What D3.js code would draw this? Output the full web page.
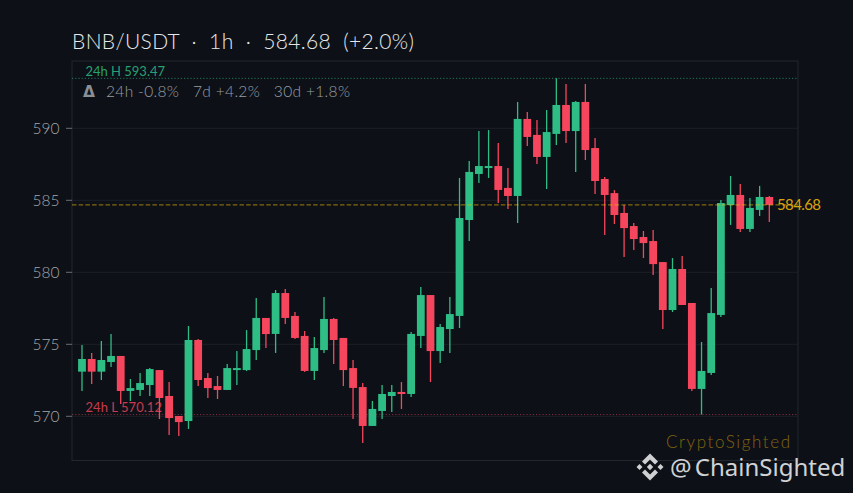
<!DOCTYPE html>
<html>
<head>
<meta charset="utf-8">
<script src="https://cdn.jsdelivr.net/npm/d3@7"></script>
<style>
  html, body { margin: 0; padding: 0; background: #0d1117; }
  svg { display: block; }
  text { font-family: Lato, "Noto Sans", sans-serif; font-weight: 300; white-space: pre; }
</style>
</head>
<body>
<svg id="chart" width="853" height="493"></svg>
<script>
// candles, one array per field
var opens = [573.10,573.98,573.10,573.77,574.19,571.76,571.83,572.17,573.21,571.41,570.02,569.67,575.30,572.66,572.10,571.83,573.21,573.21,574.60,576.83,
  575.72,578.56,576.97,575.58,573.15,574.60,576.76,575.44,573.35,572.03,569.33,570.37,571.41,571.69,571.55,575.58,578.42,574.53,576.06,576.97,
  583.63,586.83,587.24,587.38,585.86,585.30,590.65,589.54,588.01,589.61,591.62,589.81,591.83,588.63,586.48,585.50,584.12,583.21,582.45,582.17,
  580.71,577.38,580.23,577.87,571.90,573.01,577.04,584.67,585.37,583.01,584.33,585.23];
var highs = [574.95,574.40,575.23,575.71,574.19,572.59,573.00,573.35,573.21,572.38,570.02,576.27,575.37,573.00,572.80,573.63,574.53,575.99,578.21,576.83,
  578.77,578.84,577.24,575.92,575.51,578.28,576.83,575.44,573.91,572.31,571.07,572.17,572.17,572.38,575.85,578.98,578.42,576.41,578.28,586.55,
  587.73,589.81,589.88,588.98,587.24,591.83,591.13,590.58,591.27,593.47,593.08,591.90,593.08,589.33,586.62,585.71,584.67,583.42,582.87,582.94,
  580.71,580.99,581.13,577.87,575.16,578.91,585.02,586.69,586.13,585.16,586.00,585.30];
var lows = [571.76,572.24,572.52,573.42,570.85,571.06,571.41,571.41,569.81,568.70,568.63,569.12,572.10,571.27,571.20,571.83,572.17,573.14,573.91,574.74,
  574.40,576.41,575.37,573.08,572.52,574.40,573.63,572.10,569.81,568.15,569.33,569.81,570.30,570.51,571.34,574.74,572.38,573.70,574.40,576.13,
  582.17,586.20,586.55,584.81,584.40,583.42,588.77,587.52,585.79,588.84,588.98,586.97,587.80,585.44,582.59,583.35,581.06,581.55,580.99,579.81,
  576.06,577.24,577.73,571.76,570.12,572.87,576.90,583.29,582.80,582.80,583.91,583.49];
var closes = [573.98,573.10,573.91,574.19,571.76,571.96,572.31,573.28,571.27,569.88,569.60,575.30,572.52,571.96,571.83,573.35,573.35,574.67,576.83,575.71,
  578.56,576.83,575.44,573.15,574.74,576.76,575.30,573.21,571.97,569.33,570.51,571.55,571.69,571.55,575.72,578.42,574.53,576.20,577.10,583.77,
  586.97,587.38,587.38,585.72,585.30,590.65,589.40,588.01,589.74,591.62,589.81,591.83,588.49,586.34,585.37,583.98,583.07,582.31,582.03,580.57,
  577.38,580.23,577.73,571.90,573.15,577.17,584.81,585.37,583.01,584.47,585.23,584.68];
var priceTicks = [570, 575, 580, 585, 590];
var lastPrice = 584.68, high24 = 593.47, low24 = 570.12;
var titleText = "BNB/USDT  ·  1h  ·  584.68  (+2.0%)";
var statsText = "24h -0.8%   7d +4.2%   30d +1.8%";

var svg = d3.select("#chart");
var frame = { left: 72, right: 798, top: 61, bottom: 460.5 };

var x = d3.scaleLinear().domain([0, opens.length - 1]).range([82, 769.3]);
var y = d3.scaleLinear().domain([570, 590]).range([416.3, 128.3]);

// grid
svg.append("g").selectAll("line")
    .data(priceTicks)
    .enter().append("line")
    .attr("x1", frame.left).attr("x2", frame.right)
    .attr("y1", function (d) { return y(d); }).attr("y2", function (d) { return y(d); })
    .attr("stroke", "#1b2027").attr("stroke-width", 1);

// frame
svg.append("rect")
    .attr("x", frame.left).attr("y", frame.top)
    .attr("width", frame.right - frame.left).attr("height", frame.bottom - frame.top)
    .attr("fill", "none").attr("stroke", "#22272e").attr("stroke-width", 1);

// ticks and labels
var tickG = svg.append("g").selectAll("g")
    .data(priceTicks)
    .enter().append("g")
    .attr("transform", function (d) { return "translate(0," + y(d) + ")"; });
tickG.append("line").attr("x1", 66).attr("x2", 72).attr("stroke", "#6a6e75");
tickG.append("text")
    .attr("x", 59.5).attr("y", 0.5).attr("dy", "0.36em").attr("text-anchor", "end")
    .attr("font-size", 15.5).attr("fill", "#a3a6ab")
    .text(function (d) { return d; });

// 24h high/low lines
svg.append("line")
    .attr("x1", frame.left).attr("x2", frame.right)
    .attr("y1", y(high24)).attr("y2", y(high24))
    .attr("stroke", "#2ebd85").attr("stroke-opacity", 0.6).attr("stroke-dasharray", "1.2,2");
svg.append("line")
    .attr("x1", frame.left).attr("x2", frame.right)
    .attr("y1", y(low24)).attr("y2", y(low24))
    .attr("stroke", "#f6465d").attr("stroke-opacity", 0.5).attr("stroke-dasharray", "1.2,2");

// candles
var candles = svg.append("g").selectAll("g")
    .data(d3.range(opens.length))
    .enter().append("g")
    .attr("fill", function (i) { return closes[i] >= opens[i] ? "#2ebd85" : "#f6465d"; })
    .attr("stroke", function (i) { return closes[i] >= opens[i] ? "#2ebd85" : "#f6465d"; });
candles.append("line")
    .attr("x1", function (i) { return x(i); }).attr("x2", function (i) { return x(i); })
    .attr("y1", function (i) { return y(highs[i]); }).attr("y2", function (i) { return y(lows[i]); })
    .attr("stroke-width", 1.3);
candles.append("rect")
    .attr("x", function (i) { return x(i) - 3.9; })
    .attr("width", 7.8)
    .attr("y", function (i) { return y(Math.max(opens[i], closes[i])); })
    .attr("height", function (i) { return Math.max(1.5, Math.abs(y(opens[i]) - y(closes[i]))); })
    .attr("stroke", "none");

// last price
svg.append("line")
    .attr("x1", frame.left).attr("x2", frame.right)
    .attr("y1", y(lastPrice)).attr("y2", y(lastPrice))
    .attr("stroke", "#f0b90b").attr("stroke-opacity", 0.65).attr("stroke-dasharray", "4.5,2.2");
svg.append("text")
    .attr("x", 777).attr("y", y(lastPrice)).attr("dy", "0.36em")
    .style("font-weight", 400)
    .attr("font-size", 15).attr("fill", "#f0b90b").attr("fill-opacity", 0.9)
    .attr("textLength", 44)
    .text(lastPrice.toFixed(2));

// texts
svg.append("text").attr("x", 72).attr("y", 49)
    .attr("font-size", 21).attr("fill", "#e6e8ea")
    .attr("textLength", 342).attr("lengthAdjust", "spacing")
    .text(titleText);
svg.append("text").attr("x", 85.5).attr("y", 76)
    .style("font-weight", 400)
    .attr("font-size", 13).attr("fill", "#2ebd85").attr("fill-opacity", 0.85)
    .attr("textLength", 79.5)
    .text("24h H " + high24.toFixed(2));
svg.append("text").attr("x", 85.5).attr("y", 412.3)
    .style("font-weight", 400)
    .attr("font-size", 13).attr("fill", "#f6465d").attr("fill-opacity", 0.8)
    .attr("textLength", 76.5)
    .text("24h L " + low24.toFixed(2));
svg.append("text").attr("x", 83).attr("y", 96.5)
    .style("font-family", "'DejaVu Sans', sans-serif").style("font-weight", 700)
    .attr("font-size", 15.5).attr("fill", "#8b8f96")
    .text("Δ");
svg.append("text").attr("x", 106).attr("y", 96.5)
    .attr("font-size", 15.5).attr("fill", "#9a9ea4")
    .attr("textLength", 244)
    .text(statsText);

// watermarks
svg.append("text").attr("x", 666).attr("y", 448)
    .attr("font-size", 17).attr("fill", "#f0b90b").attr("fill-opacity", 0.5)
    .attr("textLength", 124)
    .text("CryptoSighted");
svg.append("text").attr("x", 670).attr("y", 475.5)
    .style("font-family", "'Noto Sans', sans-serif").style("font-weight", 400)
    .style("word-spacing", "-3px")
    .attr("font-size", 24).attr("fill", "#d0d2d4")
    .text("@ ChainSighted");

// binance style logo, drawn round its centre
var logo = svg.append("g").attr("transform", "translate(650,467)").attr("fill", "#cfd0d2");
var logoPaths = [
  "M0,-13.5 L8,-5.5 L5,-2.5 L0,-7.5 L-5,-2.5 L-8,-5.5 Z",
  "M0,13.5 L8,5.5 L5,2.5 L0,7.5 L-5,2.5 L-8,5.5 Z",
  "M-13.5,0 L-10.5,-3 L-7.5,0 L-10.5,3 Z",
  "M13.5,0 L10.5,-3 L7.5,0 L10.5,3 Z",
  "M0,-3.2 L3.2,0 L0,3.2 L-3.2,0 Z"
];
logo.selectAll("path").data(logoPaths).enter().append("path").attr("d", function (d) { return d; });
</script>
</body>
</html>
